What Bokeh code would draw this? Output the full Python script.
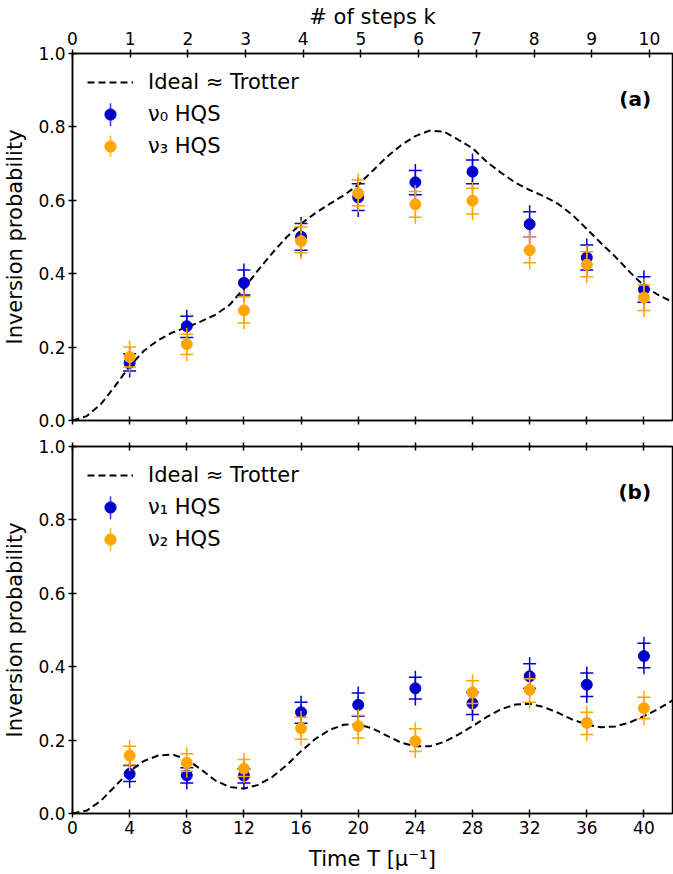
from bokeh.plotting import figure
from bokeh.models import (ColumnDataSource, Range1d, LinearAxis, FixedTicker, Legend,
                          LegendItem, Label, PrintfTickFormatter)
from bokeh.layouts import column
from bokeh.embed import file_html
from bokeh.resources import INLINE

FONT = "DejaVu Sans"
BLUE = "#0000CD"
ORANGE = "#FFA500"

# ---------------- data ----------------
steps_k = [0, 1, 2, 3, 4, 5, 6, 7, 8, 9, 10]
time_ticks = [0, 4, 8, 12, 16, 20, 24, 28, 32, 36, 40]
prob_ticks = [0.0, 0.2, 0.4, 0.6, 0.8, 1.0]

time_T = [4, 8, 12, 16, 20, 24, 28, 32, 36, 40]

# panel (a)
nu0 = [0.157, 0.257, 0.375, 0.501, 0.608, 0.649, 0.678, 0.535, 0.444, 0.357]
nu0_lo = [0.135, 0.226, 0.342, 0.464, 0.572, 0.615, 0.645, 0.499, 0.410, 0.322]
nu0_hi = [0.182, 0.284, 0.410, 0.537, 0.645, 0.681, 0.710, 0.569, 0.478, 0.392]
nu3 = [0.173, 0.208, 0.300, 0.489, 0.619, 0.589, 0.599, 0.464, 0.425, 0.335]
nu3_lo = [0.146, 0.180, 0.266, 0.457, 0.585, 0.554, 0.563, 0.430, 0.392, 0.300]
nu3_hi = [0.200, 0.235, 0.337, 0.528, 0.655, 0.624, 0.633, 0.499, 0.460, 0.369]

# panel (b)
nu1 = [0.108, 0.104, 0.103, 0.276, 0.296, 0.341, 0.300, 0.374, 0.351, 0.429]
nu1_lo = [0.087, 0.083, 0.083, 0.246, 0.265, 0.312, 0.270, 0.341, 0.319, 0.397]
nu1_hi = [0.131, 0.125, 0.122, 0.303, 0.328, 0.371, 0.330, 0.408, 0.383, 0.464]
nu2 = [0.158, 0.138, 0.122, 0.232, 0.238, 0.197, 0.330, 0.337, 0.247, 0.287]
nu2_lo = [0.133, 0.115, 0.101, 0.202, 0.206, 0.169, 0.300, 0.303, 0.215, 0.258]
nu2_hi = [0.183, 0.163, 0.147, 0.262, 0.267, 0.231, 0.362, 0.367, 0.276, 0.317]

# ideal (= Trotter) curves
ideal_T = list(range(43))
ideal_a = [0.000, 0.012, 0.045, 0.095, 0.148, 0.190, 0.219, 0.240, 0.254, 0.270,
           0.288, 0.315, 0.360, 0.410, 0.457, 0.500, 0.536, 0.565, 0.590, 0.614,
           0.642, 0.680, 0.718, 0.750, 0.775, 0.790, 0.787, 0.765, 0.742, 0.705,
           0.675, 0.648, 0.628, 0.611, 0.590, 0.560, 0.522, 0.483, 0.446, 0.405,
           0.367, 0.342, 0.323]
ideal_b = [0.000, 0.008, 0.035, 0.075, 0.115, 0.143, 0.158, 0.161, 0.147, 0.120,
           0.090, 0.072, 0.068, 0.078, 0.100, 0.132, 0.170, 0.203, 0.228, 0.242,
           0.243, 0.232, 0.212, 0.193, 0.183, 0.183, 0.195, 0.215, 0.238, 0.263,
           0.284, 0.297, 0.299, 0.290, 0.274, 0.256, 0.242, 0.235, 0.237, 0.248,
           0.265, 0.285, 0.308]


def style_axis(ax, show_labels=True):
    ax.axis_line_color = "black"
    ax.axis_line_width = 1.5
    ax.major_tick_line_color = "black"
    ax.major_tick_line_width = 1.5
    ax.major_tick_in = 4
    ax.major_tick_out = 4
    ax.minor_tick_line_color = None
    ax.major_label_text_font = FONT
    if show_labels:
        ax.major_label_text_font_size = "17px"
        ax.major_label_text_color = "black"
        ax.major_label_standoff = 3
    else:
        ax.major_label_text_font_size = "1px"
        ax.major_label_text_color = None
        ax.major_label_standoff = 0
    ax.axis_label_text_font = FONT
    ax.axis_label_text_font_size = "21px"
    ax.axis_label_text_font_style = "normal"
    ax.axis_label_text_color = "black"


def make_panel(height, top, bottom, series, ideal, tag):
    p = figure(width=673, height=height, x_range=Range1d(0, 42), y_range=Range1d(0, 1),
               output_backend="svg", toolbar_location=None,
               x_axis_location=None, y_axis_location=None,
               min_border_left=71, min_border_right=1,
               min_border_top=top, min_border_bottom=bottom)
    p.grid.visible = False
    p.outline_line_color = "black"
    p.outline_line_width = 1.5
    p.background_fill_color = "white"
    p.border_fill_color = "white"

    yax = LinearAxis(axis_label="Inversion probability",
                     ticker=FixedTicker(ticks=prob_ticks),
                     formatter=PrintfTickFormatter(format="%.1f"))
    style_axis(yax)
    yax.axis_label_standoff = 8
    p.add_layout(yax, "left")

    line_r = p.line(ideal_T, ideal, line_color="black", line_width=2, line_dash="7 4")

    items = [LegendItem(label="Ideal \u2248 Trotter", renderers=[line_r])]
    for name, vals, lo, hi, color in series:
        src = ColumnDataSource(dict(
            T=time_T, v=vals, lo=lo, hi=hi,
            mid=[(a + b) / 2 for a, b in zip(lo, hi)],
            span=[b - a for a, b in zip(lo, hi)]))
        bar = p.ellipse(x="T", y="mid", width=0.001, height="span", width_units="screen",
                        source=src, fill_color=None, line_color=color,
                        line_width=1.6, line_alpha=0.75)
        p.scatter(x="T", y="lo", source=src, marker="cross", size=13,
                  line_color=color, line_width=1.5)
        p.scatter(x="T", y="hi", source=src, marker="cross", size=13,
                  line_color=color, line_width=1.5)
        dot = p.scatter(x="T", y="v", source=src, marker="circle", size=11,
                        fill_color=color, line_color=color)
        items.append(LegendItem(label=name, renderers=[bar, dot]))

    leg = Legend(items=items, location="top_left")
    leg.margin = 0
    leg.padding = 15
    leg.spacing = 4
    leg.glyph_width = 46
    leg.glyph_height = 28
    leg.label_height = 28
    leg.label_standoff = 15
    leg.label_text_font = FONT
    leg.label_text_font_size = "21px"
    leg.label_text_color = "black"
    leg.background_fill_alpha = 0
    leg.border_line_alpha = 0
    p.add_layout(leg)

    p.add_layout(Label(x=40.5, y=0.875, text=tag, text_align="right",
                       text_baseline="middle", text_font=FONT,
                       text_font_size="20px", text_font_style="bold",
                       text_color="black"))
    return p


p1 = make_panel(433, 53, 13,
                [("\u03bd\u2080 HQS", nu0, nu0_lo, nu0_hi, BLUE),
                 ("\u03bd\u2083 HQS", nu3, nu3_lo, nu3_hi, ORANGE)],
                ideal_a, "(a)")
p1.extra_x_ranges = {"k": Range1d(0, 10.4)}
kax = LinearAxis(x_range_name="k", ticker=FixedTicker(ticks=steps_k),
                 axis_label="# of steps k")
style_axis(kax)
kax.major_label_standoff = 5
kax.axis_label_standoff = 0
p1.add_layout(kax, "above")
bax1 = LinearAxis(ticker=FixedTicker(ticks=time_ticks))
style_axis(bax1, show_labels=False)
p1.add_layout(bax1, "below")

p2 = make_panel(441, 13, 61,
                [("\u03bd\u2081 HQS", nu1, nu1_lo, nu1_hi, BLUE),
                 ("\u03bd\u2082 HQS", nu2, nu2_lo, nu2_hi, ORANGE)],
                ideal_b, "(b)")
tax2 = LinearAxis(ticker=FixedTicker(ticks=time_ticks))
style_axis(tax2, show_labels=False)
p2.add_layout(tax2, "above")
xax = LinearAxis(ticker=FixedTicker(ticks=time_ticks), axis_label="Time T [\u03bc\u207b\u00b9]")
style_axis(xax)
xax.axis_label_standoff = 10
p2.add_layout(xax, "below")

layout = column(p1, p2, spacing=0)
open("out.html", "w").write(file_html(layout, INLINE))
